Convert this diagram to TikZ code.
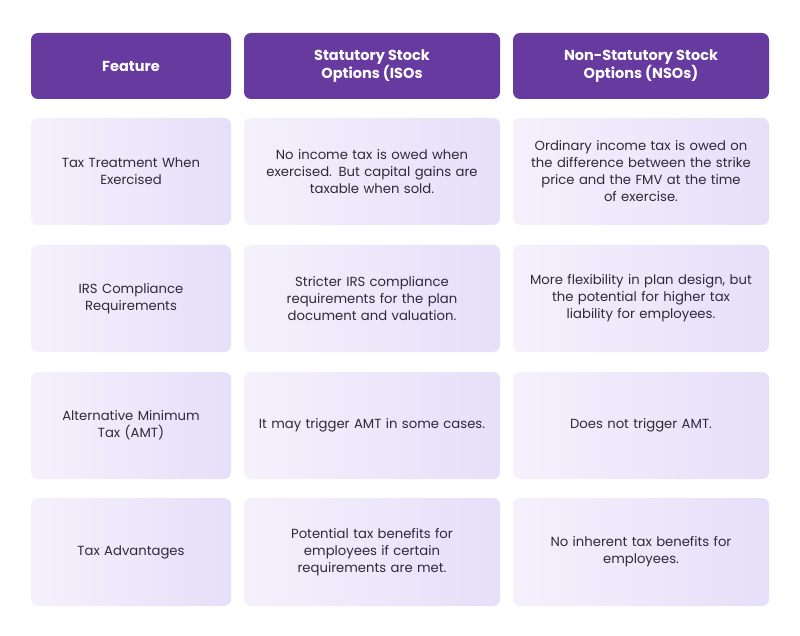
\documentclass[tikz,border=0pt]{standalone}
\usepackage{fontspec}
\setmainfont{Poppins}
\definecolor{hdr}{HTML}{673AA0}
\definecolor{cl}{HTML}{F4F1FC}
\definecolor{cr}{HTML}{E6DFF9}
\definecolor{txt}{HTML}{2E2A3A}
\tikzset{
 hbox/.style={fill=hdr,rounded corners=7pt,text=white,font=\fontsize{14.5}{18}\selectfont\bfseries,align=center,inner sep=0pt},
 cbox/.style={left color=cl,right color=cr,rounded corners=7pt,text=txt,font=\fontsize{13.2}{17}\selectfont,align=center,inner sep=0pt}
}
\newcommand{\cell}[6]{\node[#6,minimum width=#3pt,minimum height=#4pt,text width=#3pt-16pt] (#5) at (#1pt,#2pt) {};}
\begin{document}
\begin{tikzpicture}[x=1pt,y=-1pt]
\useasboundingbox[fill=white] (0,0) rectangle (800,636);
\node[hbox,minimum width=200pt,minimum height=66pt] (h1) at (131,66) {Feature};
\node[hbox,minimum width=256pt,minimum height=66pt] (h2) at (372,66) {Statutory Stock\\Options (ISOs};
\node[hbox,minimum width=256pt,minimum height=66pt] (h3) at (641,66) {Non-Statutory Stock\\Options (NSOs)};
\tikzset{c1/.style={cbox,minimum width=200pt,minimum height=107pt,text width=180pt},
 c2/.style={cbox,minimum width=256pt,minimum height=107pt,text width=240pt}}
\node[c1] (a1) at (131,171.5) {Tax Treatment When\\Exercised};
\node[c2] (a2) at (372,171.5) {No income tax is owed when\\exercised. But capital gains are\\taxable when sold.};
\node[c2] (a3) at (641,171.5) {Ordinary income tax is owed on\\the difference between the strike\\price and the FMV at the time\\of exercise.};
\node[c1] (b1) at (131,298.5) {IRS Compliance\\Requirements};
\node[c2] (b2) at (372,298.5) {Stricter IRS compliance\\requirements for the plan\\document and valuation.};
\node[c2] (b3) at (641,298.5) {More flexibility in plan design, but\\the potential for higher tax\\liability for employees.};
\node[c1] (d1) at (131,425.5) {Alternative Minimum\\Tax (AMT)};
\node[c2] (d2) at (372,425.5) {It may trigger AMT in some cases.};
\node[c2] (d3) at (641,425.5) {Does not trigger AMT.};
\node[c1,minimum height=108pt] (e1) at (131,552) {Tax Advantages};
\node[c2,minimum height=108pt] (e2) at (372,552) {Potential tax benefits for\\employees if certain\\requirements are met.};
\node[c2,minimum height=108pt] (e3) at (641,552) {No inherent tax benefits for\\employees.};
\end{tikzpicture}
\end{document}
